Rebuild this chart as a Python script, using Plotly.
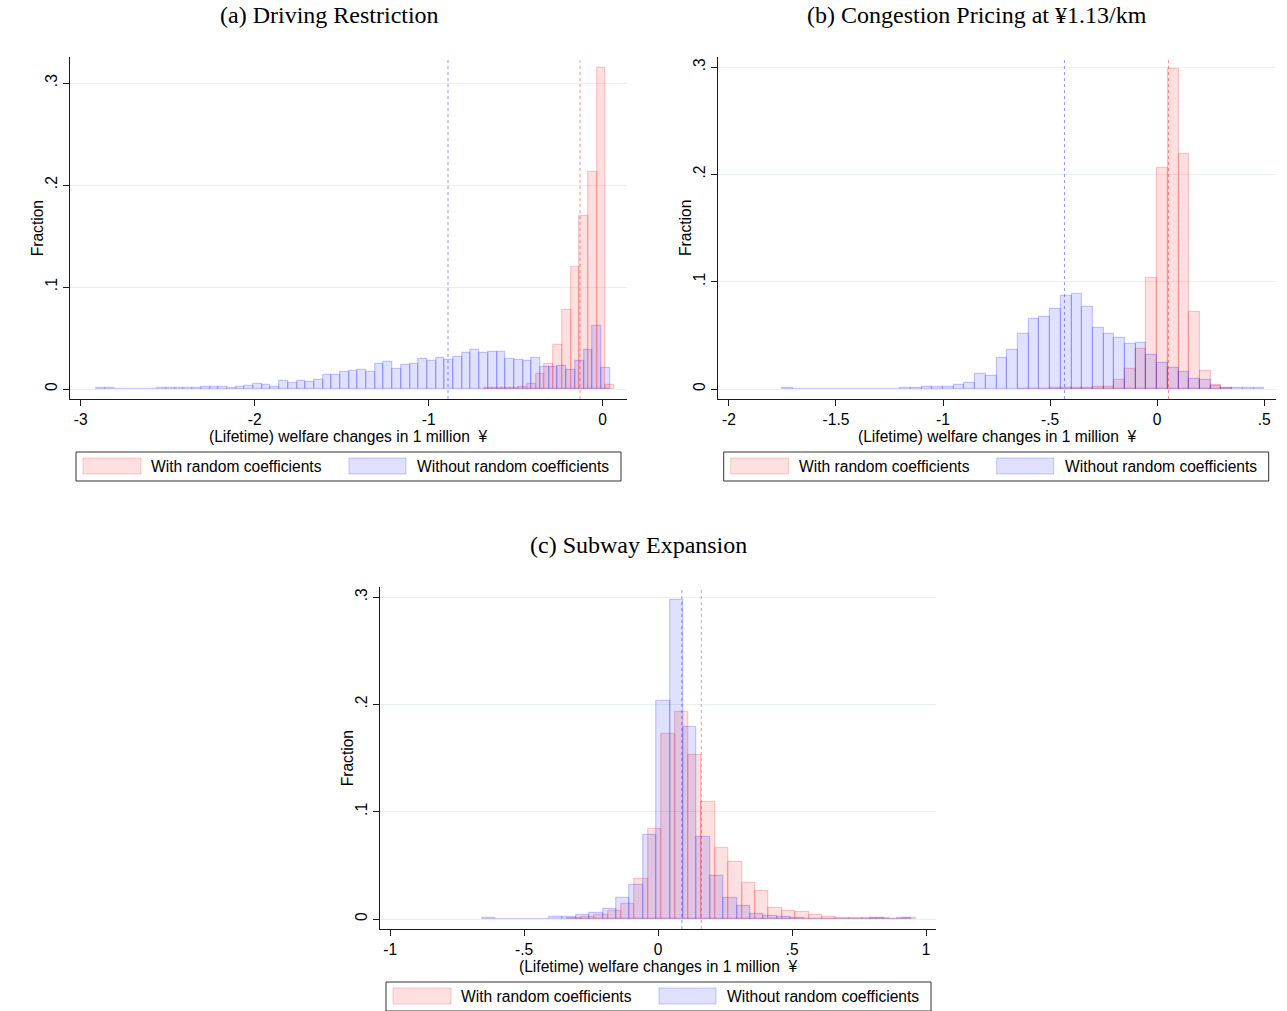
import plotly.graph_objects as go

W, H = 1287, 1011

# ---------------- data (histogram fractions, bin width 0.05) ----------------
BIN_W = 0.05

# (a) Driving Restriction
A_RC_START = -0.683
A_RC = [0.0005, 0.0005, 0.0005, 0.001, 0.0023, 0.005, 0.015, 0.025, 0.0436,
        0.077, 0.12, 0.17, 0.2125, 0.315, 0.004]
A_NORC_START = -2.908
A_NORC = [0.0005, 0.0005, 0, 0, 0, 0.0004, 0.0004, 0.0007, 0.0007, 0.0007,
          0.0007, 0.0007, 0.0016, 0.002, 0.002, 0.001, 0.0023, 0.0033, 0.0052,
          0.0036, 0.0023, 0.0082, 0.0056, 0.0082, 0.0066, 0.0085, 0.014, 0.0134,
          0.0167, 0.0174, 0.0187, 0.017, 0.0246, 0.0266, 0.0197, 0.024, 0.025,
          0.029, 0.027, 0.0305, 0.028, 0.031, 0.035, 0.038, 0.0357, 0.0367,
          0.036, 0.0295, 0.0285, 0.027, 0.0305, 0.0213, 0.022, 0.0226, 0.019,
          0.0275, 0.038, 0.062, 0.021]
A_MEAN_RC = -0.130
A_MEAN_NORC = -0.889

# (b) Congestion Pricing
B_RC_START = -0.65
B_RC = [0.0004, 0.0004, 0.0004, 0.0006, 0.0006, 0.0008, 0.001, 0.0019, 0.0016,
        0.0088, 0.0187, 0.037, 0.103, 0.206, 0.298, 0.219, 0.0717, 0.0165,
        0.0037, 0.0006]
B_NORC_START = -1.75
B_NORC = [0.0006, 0, 0, 0, 0, 0, 0.0004, 0, 0.0004, 0, 0.0003, 0.0006, 0.0012,
          0.0016, 0.0016, 0.0016, 0.0037, 0.006, 0.014, 0.012, 0.029, 0.036,
          0.051, 0.065, 0.067, 0.075, 0.087, 0.089, 0.0766, 0.0566, 0.0516,
          0.048, 0.042, 0.043, 0.032, 0.024, 0.0196, 0.016, 0.0093, 0.008,
          0.003, 0.001, 0.001, 0.0008, 0.0006]
B_MEAN_RC = 0.053
B_MEAN_NORC = -0.433

# (c) Subway Expansion
C_RC_START = -0.3375
C_RC = [0.0008, 0.002, 0.0035, 0.0072, 0.014, 0.037, 0.084, 0.172, 0.193,
        0.153, 0.109, 0.066, 0.053, 0.034, 0.026, 0.0102, 0.0075, 0.007,
        0.0037, 0.0019, 0.0006, 0.0006, 0.0012, 0.0006, 0, 0.0006]
C_NORC_START = -0.6564
C_NORC = [0.0006, 0, 0, 0, 0, 0.0015, 0.002, 0.004, 0.006, 0.009, 0.020, 0.032,
          0.078, 0.2036, 0.297, 0.179, 0.076, 0.040, 0.020, 0.012, 0.005, 0.003,
          0.0016, 0.001, 0.0004, 0, 0, 0, 0, 0.0009, 0, 0.0006]
C_MEAN_RC = 0.161
C_MEAN_NORC = 0.0885

TITLES = ["(a) Driving Restriction", "(b) Congestion Pricing at ¥1.13/km",
          "(c) Subway Expansion"]
X_TITLE = "(Lifetime) welfare changes in 1 million\u00a0\u00a0¥"
Y_TITLE = "Fraction"
LEG_RC = "With random coefficients"
LEG_NORC = "Without random coefficients"

A_XTICKS = [-3, -2, -1, 0]
A_XTEXT = ["-3", "-2", "-1", "0"]
B_XTICKS = [-2, -1.5, -1, -0.5, 0, 0.5]
B_XTEXT = ["-2", "-1.5", "-1", "-.5", "0", ".5"]
C_XTICKS = [-1, -0.5, 0, 0.5, 1]
C_XTEXT = ["-1", "-.5", "0", ".5", "1"]
Y_TICKS = [0, 0.1, 0.2, 0.3]
Y_TEXT = ["0", ".1", ".2", ".3"]

# ---------------- styles ----------------
RED_FILL = "rgba(255,0,0,0.12)"
RED_LINE = "rgba(255,0,0,0.20)"
BLUE_FILL = "rgba(0,0,255,0.12)"
BLUE_LINE = "rgba(0,0,255,0.20)"
RED_MEAN = "rgba(255,40,40,0.5)"
BLUE_MEAN = "rgba(40,40,255,0.5)"
GRID = "#E8F0F1"
SANS = "Liberation Sans, Arial, sans-serif"
SERIF = "Liberation Serif, Times New Roman, serif"
FS = 15.6


def px(x):
    return x / W


def py(y):
    return 1 - y / H


def edges(start, vals):
    return [start + i * BIN_W for i in range(len(vals))]


fig = go.Figure()

panels = [
    dict(rc=(A_RC_START, A_RC), norc=(A_NORC_START, A_NORC),
         means=(A_MEAN_RC, A_MEAN_NORC), xs="x", ys="y",
         xdom=[70.3, 627], ydom=[399, 57], xrange=[-3.06, 0.14],
         yrange=[-0.0098, 0.3255], ticks=(A_XTICKS, A_XTEXT)),
    dict(rc=(B_RC_START, B_RC), norc=(B_NORC_START, B_NORC),
         means=(B_MEAN_RC, B_MEAN_NORC), xs="x2", ys="y2",
         xdom=[718, 1276], ydom=[399, 57], xrange=[-2.051, 0.555],
         yrange=[-0.0093, 0.3094], ticks=(B_XTICKS, B_XTEXT)),
    dict(rc=(C_RC_START, C_RC), norc=(C_NORC_START, C_NORC),
         means=(C_MEAN_RC, C_MEAN_NORC), xs="x3", ys="y3",
         xdom=[380.3, 936], ydom=[929, 587], xrange=[-1.037, 1.037],
         yrange=[-0.0093, 0.3094], ticks=(C_XTICKS, C_XTEXT)),
]

shapes = []
annotations = []

for i, p in enumerate(panels):
    s, v = p["rc"]
    fig.add_trace(go.Bar(x=edges(s, v), y=v, width=BIN_W, offset=0,
                         marker=dict(color=RED_FILL, line=dict(color=RED_LINE, width=1.2)),
                         name=LEG_RC, showlegend=False, xaxis=p["xs"], yaxis=p["ys"]))
    s, v = p["norc"]
    fig.add_trace(go.Bar(x=edges(s, v), y=v, width=BIN_W, offset=0,
                         marker=dict(color=BLUE_FILL, line=dict(color=BLUE_LINE, width=1.2)),
                         name=LEG_NORC, showlegend=False, xaxis=p["xs"], yaxis=p["ys"]))
    suffix = "" if i == 0 else str(i + 1)
    xa = dict(domain=[px(p["xdom"][0]), px(p["xdom"][1])], range=p["xrange"],
              anchor=p["ys"], showgrid=False, zeroline=False, showline=True,
              linecolor="#1a1a1a", linewidth=1, ticks="outside", ticklen=6,
              tickcolor="#1a1a1a", tickvals=p["ticks"][0], ticktext=p["ticks"][1],
              tickfont=dict(family=SANS, size=FS, color="black"))
    ya = dict(domain=[py(p["ydom"][0]), py(p["ydom"][1])], range=p["yrange"],
              anchor=p["xs"], showgrid=True, gridcolor=GRID, gridwidth=1,
              zeroline=False, showline=True, linecolor="#1a1a1a", linewidth=1,
              ticks="outside", ticklen=6, tickcolor="#1a1a1a",
              tickvals=Y_TICKS, ticktext=Y_TEXT, tickangle=-90,
              tickfont=dict(family=SANS, size=FS, color="black"))
    fig.layout["xaxis" + suffix] = xa
    fig.layout["yaxis" + suffix] = ya

    # mean lines
    for mval, col in ((p["means"][0], RED_MEAN), (p["means"][1], BLUE_MEAN)):
        shapes.append(dict(type="line", xref=p["xs"], yref=p["ys"] + " domain",
                           x0=mval, x1=mval, y0=0, y1=1,
                           line=dict(color=col, width=1, dash="dot"), layer="above"))

    # axis titles
    xc = (p["xdom"][0] + p["xdom"][1]) / 2
    annotations.append(dict(text=X_TITLE, x=px(xc), y=py(p["ydom"][0] + 37),
                            xref="paper", yref="paper", xanchor="center", yanchor="middle",
                            showarrow=False, font=dict(family=SANS, size=FS, color="black")))
    yc = (p["ydom"][0] + p["ydom"][1]) / 2
    annotations.append(dict(text=Y_TITLE, x=px(p["xdom"][0] - 33), y=py(yc),
                            xref="paper", yref="paper", xanchor="center", yanchor="middle",
                            textangle=-90, showarrow=False,
                            font=dict(family=SANS, size=FS, color="black")))

    # legend (drawn)
    lx = p["xdom"][0] + 5.7
    ly = p["ydom"][0] + 53
    shapes.append(dict(type="rect", xref="paper", yref="paper",
                       x0=px(lx), x1=px(lx + 545), y0=py(ly), y1=py(ly + 29),
                       line=dict(color="#333333", width=1), fillcolor="white"))
    shapes.append(dict(type="rect", xref="paper", yref="paper",
                       x0=px(lx + 7), x1=px(lx + 65), y0=py(ly + 6), y1=py(ly + 22),
                       line=dict(color=RED_LINE, width=1), fillcolor=RED_FILL))
    shapes.append(dict(type="rect", xref="paper", yref="paper",
                       x0=px(lx + 273), x1=px(lx + 330), y0=py(ly + 6), y1=py(ly + 22),
                       line=dict(color=BLUE_LINE, width=1), fillcolor=BLUE_FILL))
    annotations.append(dict(text=LEG_RC, x=px(lx + 73), y=py(ly + 14.5),
                            xref="paper", yref="paper", xanchor="left", yanchor="middle",
                            showarrow=False, font=dict(family=SANS, size=FS, color="black")))
    annotations.append(dict(text=LEG_NORC, x=px(lx + 339), y=py(ly + 14.5),
                            xref="paper", yref="paper", xanchor="left", yanchor="middle",
                            showarrow=False, font=dict(family=SANS, size=FS, color="black")))

# panel titles
for t, (tx, ty) in zip(TITLES, [(329, 15), (977, 15), (638, 545)]):
    annotations.append(dict(text=t, x=px(tx), y=py(ty), xref="paper", yref="paper",
                            xanchor="center", yanchor="middle", showarrow=False,
                            font=dict(family=SERIF, size=24, color="black")))

fig.update_layout(width=W, height=H, autosize=False,
                  margin=dict(l=0, r=0, t=0, b=0),
                  paper_bgcolor="white", plot_bgcolor="white",
                  barmode="overlay", bargap=0, showlegend=False,
                  shapes=shapes, annotations=annotations)

fig.write_html("out.html")
